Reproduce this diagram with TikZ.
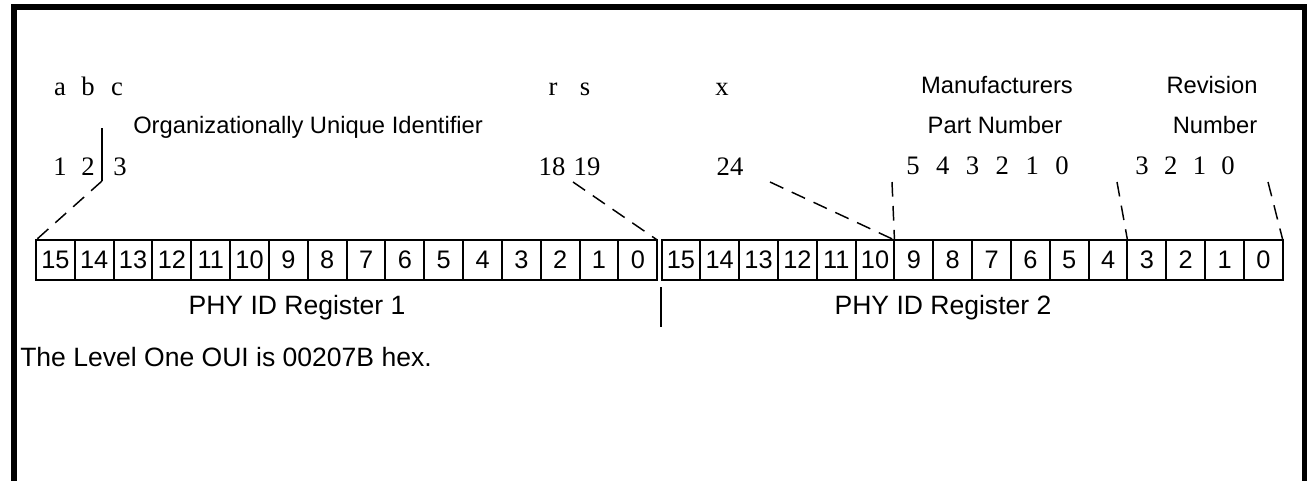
\documentclass[tikz,border=0pt]{standalone}
\usepackage{fontspec}
\setmainfont{Liberation Serif}
\setsansfont{Liberation Sans}
\usetikzlibrary{calc}

\tikzset{
	cell/.style={draw, line width=1.5pt, minimum width=29.12pt, minimum height=30pt, inner sep=0, outer sep=0, font=\sffamily\fontsize{19}{21}\selectfont},
	bitlbl/.style={anchor=base, inner sep=0, font=\fontsize{20}{22}\selectfont},
	caption/.style={inner sep=0, font=\sffamily\fontsize{17.8}{20}\selectfont},
	bigcaption/.style={inner sep=0, font=\sffamily\fontsize{19.9}{22}\selectfont},
	dashline/.style={line width=1.1pt, dash pattern=on 11pt off 7pt},
}

\begin{document}
\begin{tikzpicture}[x=0.75pt, y=-0.75pt]
		\useasboundingbox (0,0) rectangle (1309,480);
		\draw[line width=4.2pt] (14,490) -- (14,7) -- (1304.5,7) -- (1304.5,490);
		% the two registers
		\foreach \b in {0,...,15} {
			\node[cell] (r1b\b) at ({36+(15-\b)*38.83+19.41},260) {\b};
			\node[cell] (r2b\b) at ({661.5+(15-\b)*38.83+19.41},260) {\b};
		}
		\node[bigcaption, anchor=base] (reg1) at (297,314) {PHY ID Register 1};
		\node[bigcaption, anchor=base] (reg2) at (943,314) {PHY ID Register 2};
		\node[bigcaption, anchor=base west] (note) at (20,366) {The Level One OUI is 00207B hex.};
		% OUI bits
		\foreach \t/\x in {a/60, b/88, c/117, r/553, s/585, x/722}
			\node[bitlbl] (l\t) at (\x,95) {\t};
		\foreach \t/\x in {1/60, 2/88, 3/120, 18/552, 19/587, 24/730}
			\node[bitlbl] (n\t) at (\x,175) {\t};
		\node[caption, anchor=base west] (oui) at (133,133) {Organizationally Unique Identifier};
		% part number and revision
		\node[caption, anchor=base] (mfr) at (997,93) {Manufacturers};
		\node[caption, anchor=base] (part) at (995,133) {Part Number};
		\node[caption, anchor=base] (rev) at (1212,93) {Revision};
		\node[caption, anchor=base] (revnum) at (1215,133) {Number};
		\foreach \t [count=\i from 0] in {5,4,3,2,1,0}
			\node[bitlbl] (p\t) at ({913+29.8*\i},174) {\t};
		\foreach \t [count=\i from 0] in {3,2,1,0}
			\node[bitlbl] (v\t) at ({1142+28.7*\i},174) {\t};
		% connectors
		\coordinate (oui top) at (102,128);
		\coordinate (oui bot) at (102,181);
		\coordinate (b19) at (573,182);
		\coordinate (b24) at (770,182);
		\coordinate (pn hi) at (892,182);
		\coordinate (rev lo) at (1117,182);
		\coordinate (rev hi) at (1268,182);
		\coordinate (split top) at (661,287);
		\coordinate (split bot) at (661,327);
		\draw[line width=1.6pt] (oui top) -- (oui bot);
		\draw[dashline] (oui bot) -- (r1b15.north west);
		\draw[dashline] (b19) -- (r1b0.north east);
		\draw[dashline] (b24) -- (r2b9.north west);
		\draw[dashline] (pn hi) -- (r2b9.north west);
		\draw[dashline] (rev lo) -- (r2b3.north west);
		\draw[dashline] (rev hi) -- (r2b0.north east);
		\draw[line width=1.5pt] (split top) -- (split bot);
	\end{tikzpicture}
\end{document}
